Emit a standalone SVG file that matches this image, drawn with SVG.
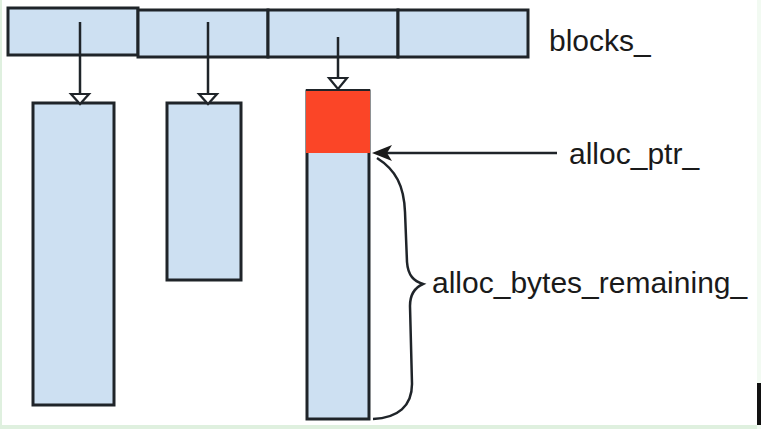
<svg xmlns="http://www.w3.org/2000/svg" width="761" height="429" viewBox="0 0 761 429">
<style>
.cell{fill:#cde0f2;stroke:#1f2429;stroke-width:3}
.blk{fill:#cde0f2;stroke:#1f2429;stroke-width:3}
.red{fill:#fb4527;stroke:none}
.ln{fill:none;stroke:#1f2429;stroke-width:2.5}
.head{fill:#ffffff;stroke:#1f2429;stroke-width:2.2}
.lbl{font-family:"Liberation Sans",Arial,sans-serif;font-size:30px;fill:#1a1a1a}
</style>
<rect x="0" y="0" width="761" height="429" fill="#ffffff"/>
<rect x="0" y="0" width="2" height="429" fill="#dff0df"/>
<rect x="0" y="425" width="761" height="4" fill="#dff0df"/>
<rect x="757" y="0" width="4" height="429" fill="#f2faf2"/>
<g id="blocks_">
<rect class="cell" x="8" y="8" width="130" height="47"/>
<rect class="cell" x="138" y="10" width="130" height="47"/>
<rect class="cell" x="268" y="10" width="130" height="47"/>
<rect class="cell" x="398" y="10" width="130" height="47"/>
<text class="lbl" x="549" y="51">blocks_</text>
</g>
<g id="block1">
<rect class="blk" x="33" y="103" width="81" height="302"/>
</g>
<g id="block2">
<rect class="blk" x="167" y="103" width="74" height="177"/>
</g>
<g id="block3">
<rect class="blk" x="307" y="91" width="62" height="328"/>
<rect class="red" x="306" y="90" width="64" height="63"/>
<line x1="306" y1="90" x2="370" y2="90" stroke="#1f2429" stroke-width="2"/>
</g>
<g id="labels">
<text class="lbl" x="569" y="164">alloc_ptr_</text>
<text class="lbl" x="432" y="293">alloc_bytes_remaining_</text>
</g>
<g id="connectors">
<line class="ln" x1="80" y1="22" x2="80" y2="94"/>
<polygon class="head" points="71,94 89,94 80,104"/>
<line class="ln" x1="208" y1="22" x2="208" y2="94"/>
<polygon class="head" points="199,94 217,94 208,104"/>
<line class="ln" x1="338" y1="37" x2="338" y2="78"/>
<polygon class="head" points="329,78 347,78 338,89"/>
<line class="ln" x1="385" y1="153" x2="557" y2="153"/>
<polygon points="372,153 392,145 387,153 392,161" fill="#1a1a1a"/>
<path class="ln" d="M 377 158 C 396 170, 404 186, 405 212 L 407 262 C 408 276, 414 281, 423 284 C 414 288, 410 295, 410 306 L 412 384 C 412 406, 398 418, 373 419"/>
</g>
<rect x="757" y="383" width="4" height="42" fill="#111111"/>
</svg>
